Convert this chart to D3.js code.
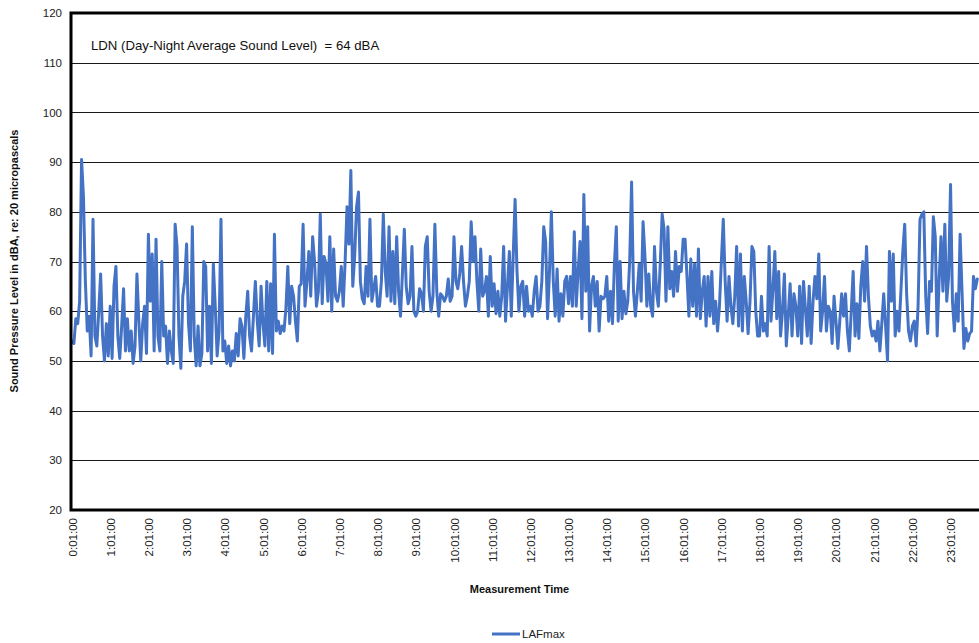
<!DOCTYPE html>
<html>
<head>
<meta charset="utf-8">
<script src="https://cdn.jsdelivr.net/npm/d3@7"></script>
<style>
  html, body { margin: 0; padding: 0; background: #fff; }
  svg { display: block; }
  text { font-family: "Liberation Sans", Arial, sans-serif; }
</style>
</head>
<body>
<svg id="chart" width="979" height="643"></svg>
<script>
// ---- Data (LAFmax, 3-minute samples starting 0:01:00) ----
const stepMinutes = 3;
const hourLabels = ["0:01:00","1:01:00","2:01:00","3:01:00","4:01:00","5:01:00","6:01:00","7:01:00",
  "8:01:00","9:01:00","10:01:00","11:01:00","12:01:00","13:01:00","14:01:00","15:01:00",
  "16:01:00","17:01:00","18:01:00","19:01:00","20:01:00","21:01:00","22:01:00","23:01:00"];
const yTicks = [20,30,40,50,60,70,80,90,100,110,120];
const seriesName = "LAFmax";
const annotation = "LDN (Day-Night Average Sound Level)  = 64 dBA";

const lafmax = [
  // 0h
  54,53.5,58.5,57.5,62,90.5,83,66,56,59,51,78.5,55,53,60,67.5,55,50,57.5,51,
  // 1h
  61,50.5,65,69,55,50.5,57,64.5,52,58.5,52,56,49.5,53,67.5,58,50,57.5,61,51.5,
  // 2h
  75.5,62,71.5,52,74.5,55,52,70,55,57,49.5,56,52,49.5,77.5,73,55,48.5,63,66,
  // 3h
  73.5,57.5,52,77,55,49,57,49,51.5,70,69,52,61,49.5,69.5,61,51,56,78.5,52,
  // 4h
  54,49.5,53,49,52,50,55.5,51,58.5,57,50.5,59,64,55,52,59,66,58,53,65,
  // 5h
  57.5,53,66,52,65.5,51.5,75.5,56,58,55.5,57,56,60.5,69,57.5,65,63,58,54,65,
  // 6h
  65.5,77.5,61,66,72,63,75,70,61,64,79.5,61.5,71,69.5,62,75,60,72.5,63,62,
  // 7h
  64,69,61,70,81,73.5,88.3,65,71,81,84,66,62.5,61.5,69,63,78.5,62,64.5,67,
  // 8h
  61,61,66,79.5,68,63,77,62,72,61.5,75,64,59,67.5,76.5,65,61.5,63,73,60,
  // 9h
  59,60,64.5,63.5,60,73,75,64,60,63,77.5,64,59,63.5,63,62,63,66.5,62,63,
  // 10h
  75,66,64.5,67.5,73,66,61,63,66,78,70,75,66,60,72.5,63,64,67,59,71,
  // 11h
  61,65.5,59.5,64,59,63,73,58,65,72,59,71,82.5,68,60,65,66,59,65,60,
  // 12h
  61,59,64,67,60,61,66,77,74,58.5,68,80,66,59,68.5,58,63.5,59,66,67,
  // 13h
  61.5,67,61,76,61,68,74,58.5,83.5,64,77,56,65,67,61,66,56,63,62.5,63,
  // 14h
  67,58,64,57.5,69.5,77,58,70,58.5,64,59.5,62,70,86,64,59,64,69.5,62,78,
  // 15h
  71,61,67.5,61,59,73,64,61,69.5,79.5,76.5,62,77,64.5,68,63,72,64,69,68,
  // 16h
  74.5,74.5,67,59,70.5,61,69.5,59,72.5,58.5,64,67,57,67,59,68,57.5,62,56,61,
  // 17h
  70,78.5,66,58,67,61,57.5,63,73,57,71.5,56,67,62,55.5,62,73,72,60,55,
  // 18h
  55,63,56,57.5,55,73,58,64.5,72,58.5,68,55,60,67.5,53,59,65.5,55,63.5,61,
  // 19h
  55,65,53.5,66,60.5,55,65,53.5,62,67,62.5,71.5,56,60,67,56,61,60,53.5,63,
  // 20h
  58,52.5,58,63.5,59,63.5,56,52,60,68,55,61.5,54.5,65,70,62,73,63,57,55,
  // 21h
  56,54,58,52,57.5,63.5,57,50,72,62,71.5,55,60,56,64,72,77.5,63.5,56,54,
  // 22h
  57,58,53,61,78.5,79.5,80,63,55.5,66,64,79,75,55,66,75,64,77.5,62,67,
  // 23h
  85.5,62,56,63.5,58,75.5,64,52.5,56.5,54,55.5,56,67,64.5,66.5
];

// ---- Layout ----
const svg = d3.select("#chart");
const plot = { left: 71, right: 979, top: 13, bottom: 510 };
const totalMinutes = 1425;

const x = d3.scaleLinear().domain([0, totalMinutes]).range([72, 979.2]);
const y = d3.scaleLinear().domain([20, 120]).range([plot.bottom, plot.top]);

// gridlines
svg.append("g")
  .selectAll("line")
  .data(yTicks.filter(t => t > 20 && t < 120))
  .join("line")
  .attr("x1", plot.left).attr("x2", plot.right)
  .attr("y1", d => Math.round(y(d)) + 0.5).attr("y2", d => Math.round(y(d)) + 0.5)
  .attr("stroke", "#1a1a1a").attr("stroke-width", 1);

// y axis (labels only)
const yAxis = d3.axisLeft(y).tickValues(yTicks).tickSize(0).tickPadding(9);
const gy = svg.append("g").attr("transform", `translate(${plot.left},0)`).call(yAxis);
gy.select(".domain").remove();
gy.selectAll("text").attr("font-size", 11.5).attr("fill", "#222")
  .attr("font-family", "'Liberation Sans', Arial, sans-serif");

// x axis labels
const xAxis = d3.axisBottom(x)
  .tickValues(hourLabels.map((_, i) => i * 60))
  .tickFormat((d, i) => hourLabels[i])
  .tickSize(0);
const gx = svg.append("g").attr("transform", `translate(0,${plot.bottom})`).call(xAxis);
gx.select(".domain").remove();
gx.selectAll("text")
  .attr("font-size", 11.5).attr("fill", "#222")
  .attr("font-family", "'Liberation Sans', Arial, sans-serif")
  .attr("transform", "rotate(-90)")
  .attr("text-anchor", "end")
  .attr("dy", "0.35em")
  .attr("x", -8)
  .attr("y", 0);

// data line
const clipId = "plotclip";
svg.append("clipPath").attr("id", clipId).append("rect")
  .attr("x", plot.left).attr("y", plot.top - 5)
  .attr("width", plot.right - plot.left).attr("height", plot.bottom - plot.top + 5);

const line = d3.line()
  .x((d, i) => x(i * stepMinutes))
  .y(d => y(d));

svg.append("path")
  .datum(lafmax)
  .attr("clip-path", `url(#${clipId})`)
  .attr("fill", "none")
  .attr("stroke", "#4472C4")
  .attr("stroke-width", 3)
  .attr("stroke-linejoin", "round")
  .attr("stroke-linecap", "round")
  .attr("d", line);

// plot border (thick left, top, bottom)
svg.append("path")
  .attr("d", `M${plot.right + 5},${plot.top} H${plot.left} V${plot.bottom} H${plot.right + 5}`)
  .attr("fill", "none").attr("stroke", "#000").attr("stroke-width", 3);

// annotation
svg.append("text")
  .attr("x", 91).attr("y", 50)
  .attr("font-size", 13.2).attr("fill", "#111")
  .attr("font-family", "'Open Sans', 'Liberation Sans', sans-serif")
  .style("white-space", "pre")
  .attr("xml:space", "preserve")
  .text(annotation);

// axis titles
svg.append("text")
  .attr("x", 519.5).attr("y", 593)
  .attr("text-anchor", "middle")
  .attr("font-size", 11).attr("font-weight", "bold").attr("fill", "#111")
  .text("Measurement Time");

svg.append("text")
  .attr("transform", "translate(18,261) rotate(-90)")
  .attr("text-anchor", "middle")
  .attr("font-size", 11).attr("font-weight", "bold").attr("fill", "#111")
  .text("Sound Pressure Level in dBA, re: 20 micropascals");

// legend
const lg = svg.append("g").attr("transform", "translate(492,634)");
lg.append("line").attr("x1", 0).attr("x2", 28).attr("y1", 0).attr("y2", 0)
  .attr("stroke", "#4472C4").attr("stroke-width", 3);
lg.append("text").attr("x", 30).attr("y", 4)
  .attr("font-size", 11.5).attr("fill", "#222").text(seriesName);
</script>
</body>
</html>
